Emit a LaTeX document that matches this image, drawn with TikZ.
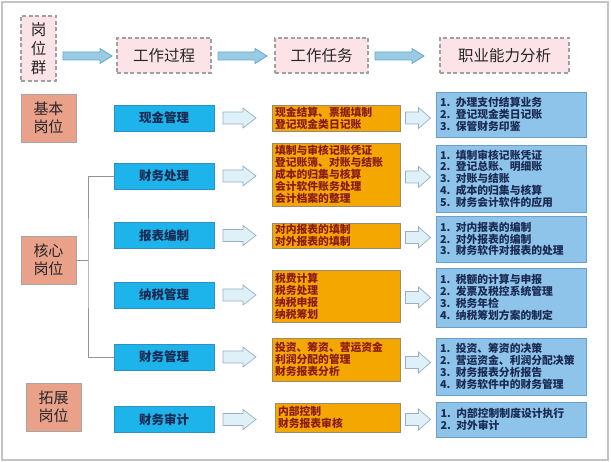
\documentclass[tikz,border=0pt]{standalone}
\usepackage{fontspec}
\setmainfont{Noto Sans CJK SC}
\definecolor{pinkfill}{HTML}{FBE3E8}
\definecolor{dashgray}{HTML}{A0A0A0}
\definecolor{salmon}{HTML}{E9A18A}
\definecolor{cyanbox}{HTML}{1DB4EC}
\definecolor{cyanedge}{HTML}{2E8FC0}
\definecolor{orangebox}{HTML}{F4A700}
\definecolor{orangeedge}{HTML}{9A8A70}
\definecolor{bluebox}{HTML}{8EC4EA}
\definecolor{blueedge}{HTML}{6B9FCB}
\definecolor{navytext}{HTML}{1A2A52}
\definecolor{redtext}{HTML}{8B1A1A}
\definecolor{harrowfill}{HTML}{9ACBE3}
\definecolor{harrowedge}{HTML}{62ABD6}
\definecolor{rarrowfill}{HTML}{DEF0F8}
\definecolor{rarrowedge}{HTML}{9AB0C0}
\definecolor{framegray}{HTML}{C4C4C4}
\tikzset{
  headbox/.style={draw=dashgray, line width=1.1pt, dash pattern=on 4pt off 2.5pt, fill=pinkfill,
    inner sep=0pt, minimum height=35pt, font=\fontsize{15.5}{19}\selectfont, text=black!85, align=center},
  posbox/.style={draw=gray!70, line width=0.9pt, fill=salmon, inner sep=0pt,
    minimum width=55pt, minimum height=48pt, font=\fontsize{15}{18.5}\selectfont, text=black!85, align=center},
  funcbox/.style={draw=cyanedge, line width=0.8pt, fill=cyanbox, inner sep=0pt,
    minimum width=100pt, minimum height=26pt, font=\fontsize{12.5}{14}\selectfont\bfseries, text=navytext},
  taskbox/.style={draw=orangeedge, line width=0.8pt, fill=orangebox, inner xsep=3pt, inner ysep=0pt,
    text width=122pt, align=left, font=\fontsize{10.8}{12}\selectfont\bfseries, text=redtext},
  abilbox/.style={draw=blueedge, line width=0.8pt, fill=bluebox, inner xsep=4pt, inner ysep=0pt,
    text width=142pt, align=left, font=\fontsize{10.8}{11.8}\selectfont\bfseries, text=navytext},
  harrowstyle/.style={draw=harrowedge, line width=0.8pt, fill=harrowfill, line join=miter},
  rarrowstyle/.style={draw=rarrowedge, line width=0.7pt, fill=rarrowfill, line join=miter},
  harrow/.pic={\path[harrowstyle] (-24.5,-4) -- (12.5,-4) -- (12.5,-7.5) -- (24.5,0)
      -- (12.5,7.5) -- (12.5,4) -- (-24.5,4) -- cycle;},
  rarrow/.pic={\path[rarrowstyle] (-16.5,-6) -- (3.5,-6) -- (3.5,-10) -- (16.5,0)
      -- (3.5,10) -- (3.5,6) -- (-16.5,6) -- cycle;},
  rarrowb/.pic={\path[rarrowstyle] (-12.5,-6) -- (0.5,-6) -- (0.5,-10.5) -- (12.5,0)
      -- (0.5,10.5) -- (0.5,6) -- (-12.5,6) -- cycle;},
  bracketline/.style={draw=gray!85, line width=0.8pt}
}
\begin{document}
\begin{tikzpicture}[x=1pt,y=-1pt]
\useasboundingbox (0,0) rectangle (611,462);
\draw[framegray, line width=2.5pt] (2,2) rectangle (608,460);

% header row
\node[headbox, minimum width=35pt, minimum height=65pt] (gwq) at (38.5,48.5) {岗\\位\\群};
\node[headbox, minimum width=94pt] (gzgc) at (164,55.5) {工作过程};
\node[headbox, minimum width=93pt] (gzrw) at (321.5,55.5) {工作任务};
\node[headbox, minimum width=129pt] (zynl) at (504.5,55.5) {职业能力分析};
\pic (ha1) at (87.5,56) {harrow};
\pic (ha2) at (242.5,56) {harrow};
\pic (ha3) at (399.5,56) {harrow};

% position boxes
\node[posbox] (jb) at (48.5,118) {基本\\岗位};
\node[posbox] (hx) at (48.5,260) {核心\\岗位};
\node[posbox] (tz) at (53.5,407) {拓展\\岗位};

% function boxes
\node[funcbox] (xj) at (164,118) {现金管理};
\node[funcbox] (cw) at (164,176) {财务处理};
\node[funcbox] (bb) at (164,235.5) {报表编制};
\node[funcbox] (ns) at (164,295) {纳税管理};
\node[funcbox] (cg) at (164,357) {财务管理};
\node[funcbox] (sj) at (164,419.5) {财务审计};

% bracket
\coordinate (br) at (88,260);
\draw[bracketline] (hx.east) -- (br);
\draw[bracketline] (cw.west) -| (br) |- (cg.west);

% first arrows
\pic (r1) at (239.5,118) {rarrow};
\pic (r2) at (239.5,176) {rarrow};
\pic (r3) at (239.5,235.5) {rarrow};
\pic (r4) at (239.5,295) {rarrow};
\pic (r5) at (239.5,357) {rarrow};
\pic (r6) at (239.5,419.5) {rarrow};

% task boxes
\node[taskbox, minimum height=26pt] (o1) at (336,118) {现金结算、票据填制\\登记现金类日记账};
\node[taskbox, minimum height=63pt] (o2) at (336,174.5) {填制与审核记账凭证\\登记账簿、对账与结账\\成本的归集与核算\\会计软件账务处理\\会计档案的整理};
\node[taskbox, minimum height=25pt] (o3) at (336,235.5) {对内报表的填制\\对外报表的填制};
\node[taskbox, minimum height=52pt] (o4) at (336,296) {税费计算\\税务处理\\纳税申报\\纳税筹划};
\node[taskbox, minimum height=43pt] (o5) at (336,359.5) {投资、筹资、营运资金\\利润分配的管理\\财务报表分析};
\node[taskbox, minimum height=29pt, text width=119pt] (o6) at (337.5,417.5) {内部控制\\财务报表审核};

% second arrows
\pic (s1) at (418,118) {rarrowb};
\pic (s2) at (418,177) {rarrowb};
\pic (s3) at (418,237.5) {rarrowb};
\pic (s4) at (418,297.5) {rarrowb};
\pic (s5) at (418,362.5) {rarrowb};
\pic (s6) at (418,419.5) {rarrowb};

% ability boxes
\node[abilbox, minimum height=45pt] (b1) at (511,114.5) {1. 办理支付结算业务\\2. 登记现金类日记账\\3. 保管财务印鉴};
\node[abilbox, minimum height=67pt] (b2) at (511,178.5) {1. 填制审核记账凭证\\2. 登记总账、明细账\\3. 对账与结账\\4. 成本的归集与核算\\5. 财务会计软件的应用};
\node[abilbox, minimum height=46pt] (b3) at (511,239) {1. 对内报表的编制\\2. 对外报表的编制\\3. 财务软件对报表的处理};
\node[abilbox, minimum height=59pt] (b4) at (511,297.5) {1. 税额的计算与申报\\2. 发票及税控系统管理\\3. 税务年检\\4. 纳税筹划方案的制定};
\node[abilbox, minimum height=57pt] (b5) at (511,366.5) {1. 投资、筹资的决策\\2. 营运资金、利润分配决策\\3. 财务报表分析报告\\4. 财务软件中的财务管理};
\node[abilbox, minimum height=35pt] (b6) at (511.5,419.5) {1. 内部控制制度设计执行\\2. 对外审计};
\end{tikzpicture}
\end{document}
